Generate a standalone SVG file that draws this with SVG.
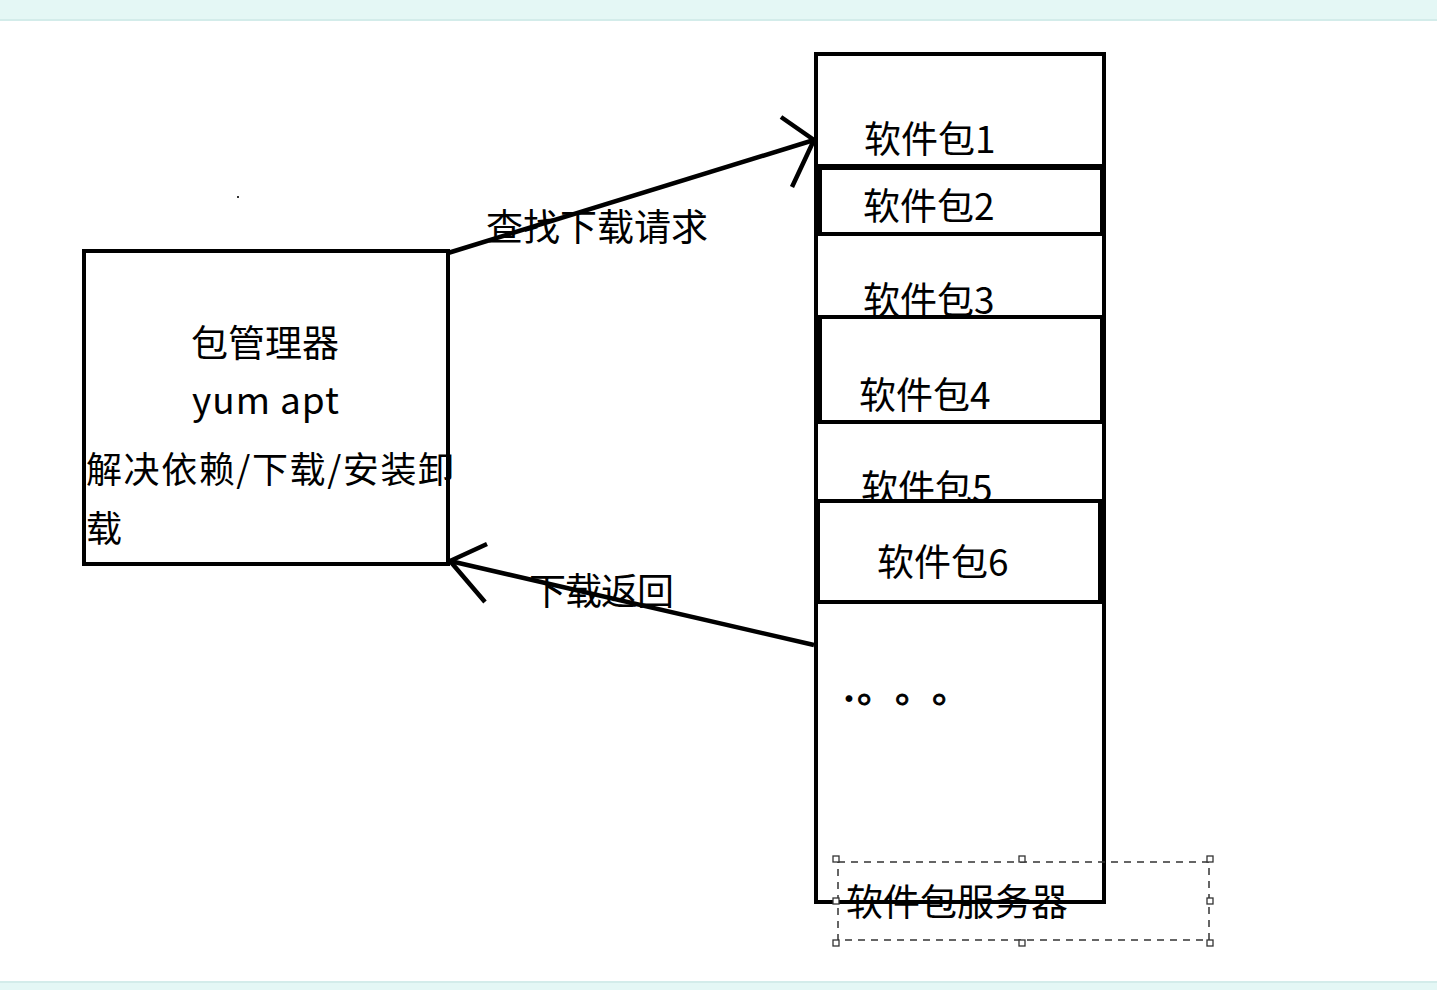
<svg xmlns="http://www.w3.org/2000/svg" width="1437" height="990" viewBox="0 0 1437 990">
<style>
.t{font-family:"Noto Sans CJK SC","Microsoft YaHei",sans-serif;font-size:37px;fill:#000}
.box{fill:#fff;stroke:#000;stroke-width:4}
.edge{fill:none;stroke:#000;stroke-width:4.5;stroke-linecap:butt}
.sel{fill:none;stroke:#333;stroke-width:1.5;stroke-dasharray:7 6}
.h{fill:#fff;stroke:#333;stroke-width:1.3}
</style>
<defs>
<clipPath id="clipL"><rect x="0" y="0" width="452" height="990"/></clipPath>
</defs>
<rect x="0" y="0" width="1437" height="990" fill="#fff"/>
<rect x="0" y="0" width="1437" height="20" fill="#e4f7f5"/>
<rect x="0" y="19" width="1437" height="2" fill="#d3ecea"/>
<rect x="0" y="982" width="1437" height="8" fill="#e4f7f5"/>
<rect x="0" y="981" width="1437" height="2" fill="#d3ecea"/>
<rect x="237" y="196" width="2" height="2" fill="#333"/>

<g id="pkg-manager">
<rect class="box" x="84" y="251" width="364" height="313"/>
<text class="t" x="191" y="357">包管理器</text>
<text class="t" x="192" y="414" textLength="147">yum apt</text>
<g clip-path="url(#clipL)">
<text class="t" x="86" y="483" textLength="368" style="font-size:36px">解决依赖/下载/安装卸</text>
</g>
<text class="t" x="86" y="542" style="font-size:36px">载</text>
</g>

<g id="server">
<rect class="box" x="816" y="54" width="288" height="848"/>
<text class="t" x="864" y="153">软件包1</text>
<line x1="816" y1="166" x2="1104" y2="166" stroke="#000" stroke-width="4"/>
<g id="pkg2">
<rect class="box" x="820" y="168" width="282" height="66"/>
<text class="t" x="863" y="220">软件包2</text>
</g>
<text class="t" x="863" y="314">软件包3</text>
<g id="pkg4">
<rect class="box" x="820" y="317" width="282" height="105"/>
<text class="t" x="859" y="409">软件包4</text>
</g>
<text class="t" x="861" y="502">软件包5</text>
<g id="pkg6">
<rect class="box" x="818" y="501" width="282" height="101"/>
<text class="t" x="877" y="576">软件包6</text>
</g>
<text class="t" style="stroke:#000;stroke-width:1" y="703"><tspan x="833" y="711" style="stroke:none;font-size:32px">·</tspan><tspan x="857" y="703">。</tspan><tspan x="895">。</tspan><tspan x="932">。</tspan></text>
</g>

<g id="server-label">
<rect class="sel" x="838" y="862" width="371" height="78"/>
<rect class="h" x="833" y="856" width="6" height="6"/>
<rect class="h" x="1019" y="856" width="6" height="6"/>
<rect class="h" x="1207" y="856" width="6" height="6"/>
<rect class="h" x="833" y="898" width="6" height="6"/>
<rect class="h" x="1207" y="898" width="6" height="6"/>
<rect class="h" x="833" y="940" width="6" height="6"/>
<rect class="h" x="1019" y="940" width="6" height="6"/>
<rect class="h" x="1207" y="940" width="6" height="6"/>
<text class="t" x="846" y="916">软件包服务器</text>
</g>

<g id="connectors">
<g id="edge-request">
<line class="edge" x1="448" y1="253" x2="814" y2="140"/>
<polyline class="edge" points="781,117 814,140 792,187"/>
<text class="t" x="486" y="241">查找下载请求</text>
</g>
<g id="edge-return">
<line class="edge" x1="814" y1="645" x2="450" y2="561"/>
<polyline class="edge" points="487,544 450,561 485,602"/>
<text class="t" x="529" y="605" textLength="145">下载返回</text>
</g>
</g>
</svg>
